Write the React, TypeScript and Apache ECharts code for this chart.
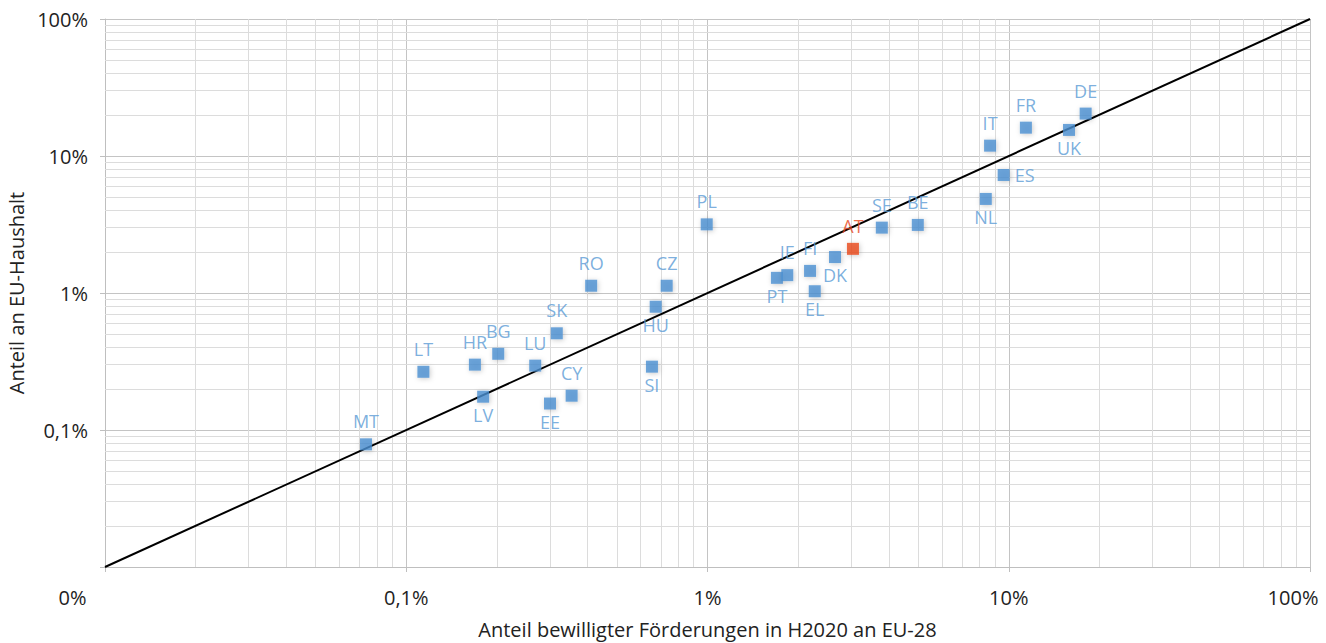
import React, { useEffect, useRef } from "react";
import * as echarts from "echarts";

const countries = ["MT","LT","HR","LV","BG","LU","SK","EE","CY","RO","CZ","HU","SI","PL","PT","IE","FI","EL","DK","AT","SE","BE","NL","IT","ES","FR","UK","DE"];
const fundingShare = [0.0735,0.114,0.169,0.180,0.202,0.268,0.316,0.300,0.354,0.411,0.732,0.673,0.654,0.994,1.70,1.84,2.19,2.27,2.65,3.04,3.79,4.99,8.39,8.67,9.62,11.4,15.85,18.0];
const budgetShare = [0.0786,0.266,0.300,0.175,0.360,0.295,0.508,0.156,0.178,1.13,1.13,0.794,0.290,3.17,1.29,1.35,1.45,1.03,1.83,2.10,3.00,3.14,4.86,11.9,7.27,16.1,15.5,20.4];
const highlighted = "AT";
const decades = [0.01, 0.1, 1, 10, 100];
const xTickLabels = ["0%", "0,1%", "1%", "10%", "100%"];
const yTickLabels = ["", "0,1%", "1%", "10%", "100%"];

const labelPlacement: Record<string, string> = {
  LV: "bottom", EE: "bottom", HU: "bottom", SI: "bottom", PT: "bottom",
  EL: "bottom", DK: "bottom", NL: "bottom", UK: "bottom", ES: "right",
};
const labelDistance: Record<string, number> = { top: 8, bottom: 3, right: 5 };

const BLUE = "#4A8FD1";
const LABEL_BLUE = "#5B9BD5";
const ORANGE = "#E8491D";
const FONT = "'Open Sans', sans-serif";

function tickIndex(v: number) {
  return decades.findIndex((d) => Math.abs(Math.log10(d) - Math.log10(v)) < 1e-6);
}

export default function App() {
  const ref = useRef<HTMLDivElement>(null);
  useEffect(() => {
    if (!ref.current) return;
    const chart = echarts.init(ref.current, undefined, { renderer: "svg" });

    const minorValues: number[] = [];
    for (let k = 0; k < decades.length - 1; k++) {
      for (let m = 2; m <= 9; m++) minorValues.push(+(decades[k] * m).toPrecision(6));
    }
    const minorLines: any[] = [];
    minorValues.forEach((v) => {
      minorLines.push({ xAxis: v });
      minorLines.push({ yAxis: v });
    });

    const points = countries.map((c, i) => {
      const isHi = c === highlighted;
      const pos = labelPlacement[c] || "top";
      return {
        name: c,
        value: [fundingShare[i], budgetShare[i]],
        itemStyle: { color: isHi ? ORANGE : BLUE },
        label: {
          position: pos,
          distance: labelDistance[pos],
          color: isHi ? ORANGE : LABEL_BLUE,
        },
      };
    });

    const tickText = { fontFamily: FONT, fontSize: 20, color: "#222" };

    chart.setOption({
      animation: false,
      backgroundColor: "#ffffff",
      grid: { left: 105, right: 16, top: 19, bottom: 76, containLabel: false, outerBoundsMode: "none" },
      xAxis: {
        type: "log",
        logBase: 10,
        min: 0.01,
        max: 100,
        name: "Anteil bewilligter Förderungen in H2020 an EU-28",
        nameLocation: "middle",
        nameGap: 52,
        nameTextStyle: { fontFamily: FONT, fontSize: 20, color: "#222" },
        axisLine: { show: true, lineStyle: { color: "#bfbfbf", width: 1 } },
        axisTick: { show: true, length: 5, lineStyle: { color: "#bfbfbf" } },
        axisLabel: {
          margin: 20,
          ...tickText,
          formatter: (v: number) => {
            const i = tickIndex(v);
            if (i < 0) return "";
            if (i === 0) return "{first|" + xTickLabels[i] + "}";
            if (i === decades.length - 1) return "{last|" + xTickLabels[i] + "}";
            return xTickLabels[i];
          },
          rich: {
            first: { ...tickText, padding: [0, 65, 0, 0] },
            last: { ...tickText, padding: [0, 34, 0, 0] },
          },
        },
        splitLine: { show: true, lineStyle: { color: "#c4c4c4", width: 1 } },
      },
      yAxis: {
        type: "log",
        logBase: 10,
        min: 0.01,
        max: 100,
        name: "Anteil an EU-Haushalt",
        nameLocation: "middle",
        nameGap: 75,
        nameTextStyle: { fontFamily: FONT, fontSize: 20, color: "#222" },
        axisLine: { show: true, lineStyle: { color: "#bfbfbf", width: 1 } },
        axisTick: { show: true, length: 5, lineStyle: { color: "#bfbfbf" } },
        axisLabel: {
          margin: 17,
          ...tickText,
          formatter: (v: number) => {
            const i = tickIndex(v);
            return i >= 0 ? yTickLabels[i] : "";
          },
        },
        splitLine: { show: true, lineStyle: { color: "#c4c4c4", width: 1 } },
      },
      series: [
        {
          type: "line",
          data: [[0.01, 0.01]],
          symbol: "none",
          silent: true,
          z: 1,
          lineStyle: { opacity: 0 },
          markLine: {
            silent: true,
            symbol: ["none", "none"],
            label: { show: false },
            lineStyle: { color: "#dcdcdc", width: 1, type: "solid" },
            data: minorLines,
            z: 1,
          },
        },
        {
          type: "line",
          data: [[0.01, 0.01], [100, 100]],
          symbol: "none",
          silent: true,
          z: 3,
          lineStyle: { color: "#000", width: 2 },
        },
        {
          type: "scatter",
          data: points,
          symbol: "rect",
          symbolSize: 12,
          z: 5,
          itemStyle: {
            shadowBlur: 5,
            shadowColor: "rgba(0,0,0,0.25)",
            shadowOffsetX: 1,
            shadowOffsetY: 1,
          },
          label: {
            show: true,
            formatter: "{b}",
            fontFamily: FONT,
            fontSize: 18,
          },
        },
      ],
    });
    return () => chart.dispose();
  }, []);
  return (
    <div
      ref={ref}
      style={{ position: "absolute", left: 0, top: 0, width: 1326, height: 643 }}
    />
  );
}
